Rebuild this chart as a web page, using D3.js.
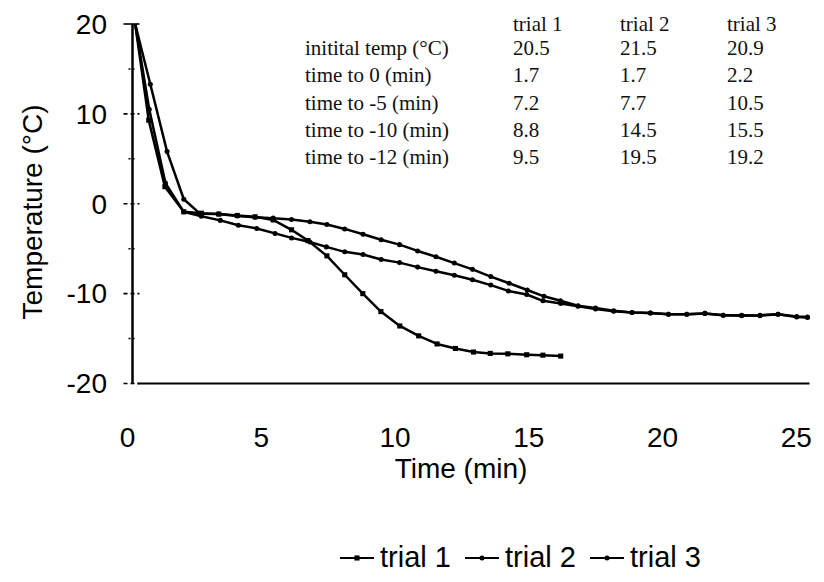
<!DOCTYPE html>
<html>
<head>
<meta charset="utf-8">
<script src="https://cdn.jsdelivr.net/npm/d3@7"></script>
<style>
  body { margin: 0; background: #fff; }
  svg { display: block; }
  .ax text { font-family: "Liberation Sans", Arial, sans-serif; fill: #000; }
  .tbl { font-family: "Liberation Serif", "Times New Roman", serif; font-size: 21px; fill: #111; }
</style>
</head>
<body>
<svg id="chart" width="824" height="582"></svg>
<script>
// ---- data ----
const trial1Time = [0.1, 0.6, 1.2, 1.9, 2.55, 3.2, 3.88, 4.54, 5.21, 5.89, 6.5, 7.2, 7.86, 8.53, 9.2, 9.9, 10.6, 11.28, 11.96, 12.63, 13.25, 13.9, 14.6, 15.2, 15.86];
const trial1Temp = [20, 9.3, 1.9, -0.9, -1.05, -1.15, -1.3, -1.45, -1.8, -2.9, -4.1, -5.8, -7.9, -10.0, -12.0, -13.6, -14.7, -15.6, -16.1, -16.5, -16.65, -16.7, -16.8, -16.85, -16.95];

const trial2Time = [0.1, 0.62, 1.22, 1.9, 2.55, 3.25, 3.92, 4.6, 5.28, 5.89, 6.57, 7.18, 7.86, 8.54, 9.21, 9.89, 10.56, 11.24, 11.92, 12.59, 13.27, 13.92, 14.6, 15.2, 15.86, 16.5, 17.15, 17.82, 18.5, 19.18, 19.85, 20.53, 21.2, 21.88, 22.56, 23.24, 23.91, 24.6, 25];
const trial2Temp = [20, 10.5, 2.3, -0.9, -1.4, -1.85, -2.4, -2.75, -3.3, -3.8, -4.25, -4.8, -5.35, -5.65, -6.2, -6.55, -7.05, -7.5, -7.95, -8.45, -9.05, -9.7, -10.1, -10.8, -11.1, -11.4, -11.7, -11.95, -12.1, -12.15, -12.3, -12.3, -12.2, -12.4, -12.4, -12.45, -12.3, -12.6, -12.65];

const trial3Time = [0.1, 0.66, 1.28, 1.9, 2.5, 3.18, 3.88, 4.54, 5.21, 5.89, 6.57, 7.2, 7.86, 8.54, 9.21, 9.89, 10.56, 11.24, 11.92, 12.59, 13.27, 13.95, 14.62, 15.24, 15.85, 16.5, 17.15, 17.82, 18.5, 19.18, 19.85, 20.53, 21.2, 21.88, 22.56, 23.24, 23.91, 24.6, 25];
const trial3Temp = [20, 13.3, 5.8, 0.5, -1.1, -1.15, -1.35, -1.5, -1.6, -1.75, -2.0, -2.3, -2.8, -3.4, -4.0, -4.55, -5.25, -5.9, -6.6, -7.3, -8.1, -8.85, -9.6, -10.3, -10.8, -11.35, -11.6, -11.9, -12.1, -12.15, -12.3, -12.3, -12.2, -12.4, -12.45, -12.4, -12.3, -12.55, -12.6];

const seriesNames = ["trial 1", "trial 2", "trial 3"];
const xTicks = [0, 5, 10, 15, 20, 25];
const yMajor = [-20, -10, 0, 10, 20];
const yMinor = [-15, -5, 5, 15];

// summary table in the corner
const tableHead = ["trial 1", "trial 2", "trial 3"];
const tableRows = ["initital temp (°C)", "time to 0 (min)", "time to -5 (min)", "time to -10 (min)", "time to -12 (min)"];
const tableTrial1 = ["20.5", "1.7", "7.2", "8.8", "9.5"];
const tableTrial2 = ["21.5", "1.7", "7.7", "14.5", "19.5"];
const tableTrial3 = ["20.9", "2.2", "10.5", "15.5", "19.2"];

// ---- drawing ----
const svg = d3.select("#chart");
const x = d3.scaleLinear().domain([0, 25]).range([132.5, 807.5]);
const y = d3.scaleLinear().domain([-20, 20]).range([383.5, 24]);

const ax = svg.append("g").attr("class", "ax");

// y axis line + cross ticks
ax.append("line")
    .attr("x1", x(0)).attr("x2", x(0))
    .attr("y1", y(20)).attr("y2", y(-20))
    .attr("stroke", "#000").attr("stroke-width", 2.5);
ax.selectAll(".ymaj").data(yMajor).enter().append("line")
    .attr("x1", x(0) - 9).attr("x2", x(0) + 7)
    .attr("y1", d => y(d)).attr("y2", d => y(d))
    .attr("stroke", "#000").attr("stroke-width", 1.6)
    .attr("stroke-dasharray", d => d === 20 ? null : "4,3");
ax.selectAll(".ymin").data(yMinor).enter().append("line")
    .attr("x1", x(0) - 4).attr("x2", x(0) + 3)
    .attr("y1", d => y(d)).attr("y2", d => y(d))
    .attr("stroke", "#000").attr("stroke-width", 1.4)
    .attr("stroke-dasharray", "2,2");

ax.selectAll(".ylab").data(yMajor).enter().append("text")
    .attr("x", 107).attr("y", d => y(d))
    .attr("dy", "0.35em")
    .attr("text-anchor", "end")
    .style("font-size", "28px")
    .text(d => d);

// x axis
ax.append("line")
    .attr("x1", x(0) + 5).attr("x2", x(25) + 2)
    .attr("y1", y(-20)).attr("y2", y(-20))
    .attr("stroke", "#000").attr("stroke-width", 2.2);

ax.selectAll(".xlab").data(xTicks).enter().append("text")
    .attr("x", d => x(d) - 5 - d * 0.25).attr("y", 447)
    .attr("text-anchor", "middle")
    .style("font-size", "28px")
    .text(d => d);

ax.append("text")
    .attr("x", 461).attr("y", 478)
    .attr("text-anchor", "middle")
    .style("font-size", "28px")
    .text("Time (min)");

ax.append("text")
    .attr("transform", "translate(42,212) rotate(-90)")
    .attr("text-anchor", "middle")
    .style("font-size", "28px")
    .text("Temperature (°C)");

// series
const series = [
    {name: seriesNames[0], t: trial1Time, v: trial1Temp, mark: "square"},
    {name: seriesNames[1], t: trial2Time, v: trial2Temp, mark: "circle"},
    {name: seriesNames[2], t: trial3Time, v: trial3Temp, mark: "circle"}
];
const line = d3.line().x(d => x(d[0])).y(d => y(d[1]));
const sym = {
    square: d3.symbol().type(d3.symbolSquare).size(26),
    circle: d3.symbol().type(d3.symbolCircle).size(20)
};

series.forEach(s => {
    let pts = s.t.map((t, i) => [t, s.v[i]]);
    let g = svg.append("g");
    g.append("path")
        .attr("d", line(pts))
        .attr("fill", "none")
        .attr("stroke", "#000")
        .attr("stroke-width", 2.5)
        .attr("stroke-linejoin", "round");
    g.selectAll("path.pt").data(pts.slice(1)).enter().append("path")
        .attr("class", "pt")
        .attr("transform", d => "translate(" + x(d[0]) + "," + y(d[1]) + ")")
        .attr("d", sym[s.mark]())
        .attr("fill", "#000");
});

// table
const tbl = svg.append("g").attr("class", "tbl");
const colX = [513, 620, 727];
tbl.selectAll(".hd").data(tableHead).enter().append("text")
    .attr("x", (d, i) => colX[i]).attr("y", 31)
    .text(d => d);
tbl.selectAll(".rl").data(tableRows).enter().append("text")
    .attr("x", 305).attr("y", (d, i) => 55 + i * 27.3)
    .text(d => d);
[tableTrial1, tableTrial2, tableTrial3].forEach((col, c) => {
    tbl.selectAll(".c" + c).data(col).enter().append("text")
        .attr("x", colX[c]).attr("y", (d, i) => 55 + i * 27.3)
        .text(d => d);
});

// legend
const leg = svg.append("g").attr("class", "ax").attr("transform", "translate(0,567)");
const legX = [340, 465, 590];
series.forEach((s, i) => {
    let lg = leg.append("g").attr("transform", "translate(" + legX[i] + ",0)");
    lg.append("line").attr("x1", 0).attr("x2", 34).attr("y1", -9).attr("y2", -9)
        .attr("stroke", "#000").attr("stroke-width", 2.2);
    lg.append("path").attr("transform", "translate(17,-9)")
        .attr("d", sym[s.mark]()).attr("fill", "#000");
    lg.append("text").attr("x", 40).attr("y", 0)
        .style("font-size", "29px")
        .text(s.name);
});
</script>
</body>
</html>
